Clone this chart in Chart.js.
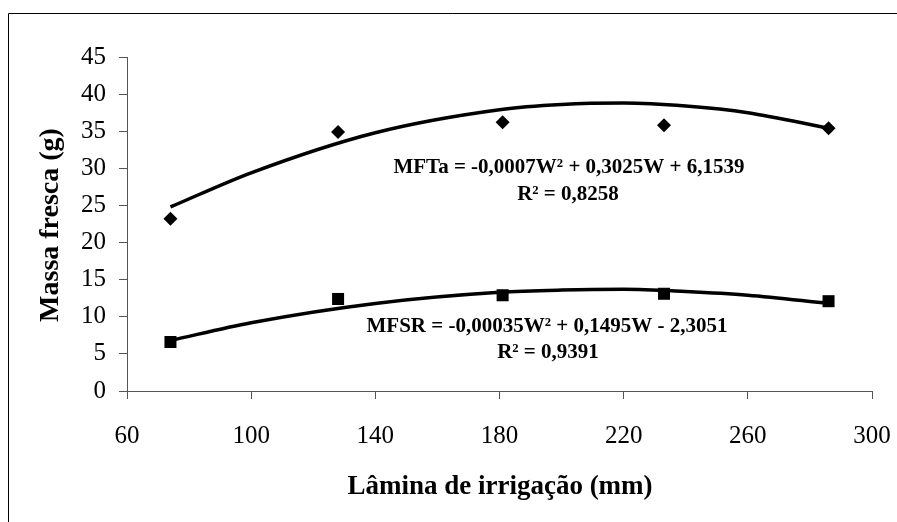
<!DOCTYPE html>
<html>
<head>
<meta charset="utf-8">
<script src="https://cdn.jsdelivr.net/npm/chart.js@4/dist/chart.umd.min.js"></script>
<style>
  html, body { margin: 0; padding: 0; background: #fff; }
  #wrap { width: 897px; height: 522px; position: relative; }
</style>
</head>
<body>
<div id="wrap"><canvas id="chart" width="897" height="522"></canvas></div>
<script>
// observed points
const laminas = [74, 128, 181, 233, 286];
const mfta = [23.2, 34.9, 36.2, 35.8, 35.4];
const mfsr = [6.6, 12.4, 12.9, 13.1, 12.1];

// trend lines
const trendX = [74, 100, 140, 180, 200, 220, 240, 260, 286];
const mftaTrend = [24.8, 29.4, 34.8, 37.9, 38.6, 38.8, 38.4, 37.5, 35.4];
const mfsrTrend = [6.8, 9.2, 11.8, 13.3, 13.6, 13.7, 13.4, 12.9, 11.8];

const xTicks = [60, 100, 140, 180, 220, 260, 300];
const yTicks = [0, 5, 10, 15, 20, 25, 30, 35, 40, 45];

const serif = "'Liberation Serif', 'Times New Roman', serif";
const axisColor = "#555";

const pts = (xs, ys) => xs.map((x, i) => ({ x: x, y: ys[i] }));

const labelsPlugin = {
  id: "labels",
  beforeDraw(chart) {
    const ctx = chart.ctx;
    ctx.save();
    ctx.strokeStyle = "#000";
    ctx.lineWidth = 1;
    ctx.beginPath();
    ctx.moveTo(8.5, 522);
    ctx.lineTo(8.5, 13.5);
    ctx.lineTo(897, 13.5);
    ctx.stroke();
    ctx.restore();
  },
  afterDraw(chart) {
    const ctx = chart.ctx;
    ctx.save();
    ctx.fillStyle = "#000";
    ctx.textAlign = "center";
    ctx.textBaseline = "middle";

    ctx.font = "bold 27px " + serif;
    ctx.fillText("Lâmina de irrigação (mm)", 500, 487);

    ctx.font = "bold 28px " + serif;
    ctx.save();
    ctx.translate(51, 225);
    ctx.rotate(-Math.PI / 2);
    ctx.fillText("Massa fresca (g)", 0, 0);
    ctx.restore();

    ctx.font = "bold 21px " + serif;
    ctx.fillText("MFTa = -0,0007W² + 0,3025W + 6,1539", 569, 168);
    ctx.fillText("R² = 0,8258", 568, 195);
    ctx.fillText("MFSR = -0,00035W² + 0,1495W - 2,3051", 547, 327);
    ctx.fillText("R² = 0,9391", 548, 353);
    ctx.restore();
  }
};

new Chart(document.getElementById("chart"), {
  type: "scatter",
  data: {
    datasets: [
      {
        label: "MFTa",
        data: pts(laminas, mfta),
        pointStyle: "rectRot",
        pointRadius: 7,
        backgroundColor: "#000",
        borderColor: "#000",
        borderWidth: 0,
        showLine: false
      },
      {
        label: "MFSR",
        data: pts(laminas, mfsr),
        pointStyle: "rect",
        pointRadius: 8.5,
        backgroundColor: "#000",
        borderColor: "#000",
        borderWidth: 0,
        showLine: false
      },
      {
        label: "MFTa trend",
        data: pts(trendX, mftaTrend),
        showLine: true,
        pointRadius: 0,
        borderColor: "#000",
        borderWidth: 3.5,
        tension: 0.4,
        cubicInterpolationMode: "monotone"
      },
      {
        label: "MFSR trend",
        data: pts(trendX, mfsrTrend),
        showLine: true,
        pointRadius: 0,
        borderColor: "#000",
        borderWidth: 3.5,
        tension: 0.4,
        cubicInterpolationMode: "monotone"
      }
    ]
  },
  options: {
    responsive: false,
    animation: false,
    layout: { padding: { left: 0, right: 25, top: 57, bottom: 0 } },
    plugins: {
      legend: { display: false },
      tooltip: { enabled: false }
    },
    scales: {
      x: {
        type: "linear",
        min: 60,
        max: 300,
        afterBuildTicks: (s) => { s.ticks = xTicks.map(v => ({ value: v })); },
        afterFit: (s) => { s.height = 131; s.paddingLeft = 0; s.paddingRight = 0; },
        border: { color: axisColor, width: 1 },
        grid: { drawOnChartArea: false, color: axisColor, tickLength: 8 },
        ticks: { color: "#000", padding: 22, font: { family: serif, size: 25 } }
      },
      y: {
        min: 0,
        max: 45,
        afterBuildTicks: (s) => { s.ticks = yTicks.map(v => ({ value: v })); },
        afterFit: (s) => { s.width = 127; s.paddingTop = 0; s.paddingBottom = 0; },
        border: { color: axisColor, width: 1 },
        grid: { drawOnChartArea: false, color: axisColor, tickLength: 8 },
        ticks: { color: "#000", padding: 13, font: { family: serif, size: 25 } }
      }
    }
  },
  plugins: [labelsPlugin]
});
</script>
</body>
</html>
